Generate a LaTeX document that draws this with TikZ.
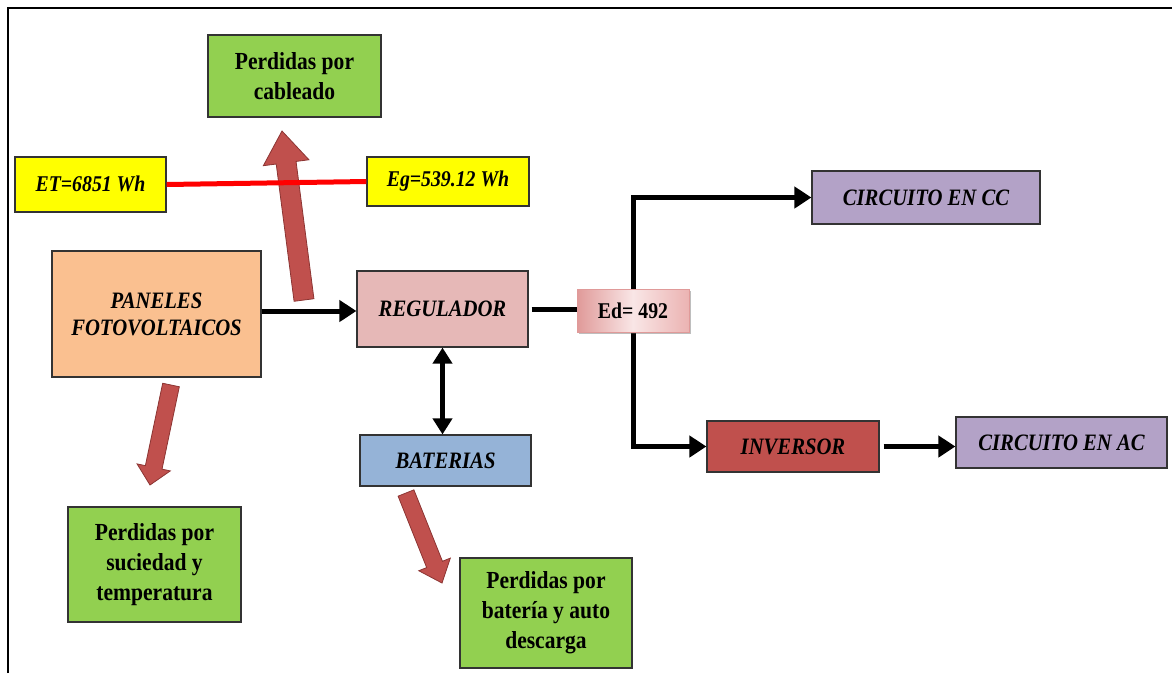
\documentclass[tikz,border=0pt]{standalone}
\usepackage{fontspec}
\setmainfont{Liberation Serif}[FakeStretch=0.88]
\usetikzlibrary{arrows.meta,calc,shadows}
\definecolor{lossgreen}{HTML}{92D050}
\definecolor{etyellow}{HTML}{FFFF00}
\definecolor{peach}{HTML}{FAC090}
\definecolor{regpink}{HTML}{E6B8B7}
\definecolor{batblue}{HTML}{95B3D7}
\definecolor{circpurple}{HTML}{B3A2C7}
\definecolor{invred}{HTML}{C0504D}
\definecolor{arrowred}{HTML}{C0504D}
\definecolor{arrowdark}{HTML}{8C3533}
\definecolor{edleft}{HTML}{E09A99}
\definecolor{edmid}{HTML}{F9E6E6}
\definecolor{edright}{HTML}{EBB3B2}
\newcommand\blockarr[6]{%
  \coordinate (#6) at ($(#2)!#5!(#1)$);
  \filldraw[lossarrow] ($(#1)!#3!90:(#2)$) -- ($(#6)!#3!90:(#2)$) -- ($(#6)!#4!90:(#2)$) -- (#2)
    -- ($(#6)!#4!-90:(#2)$) -- ($(#6)!#3!-90:(#2)$) -- ($(#1)!#3!-90:(#2)$) -- cycle;
}
\begin{document}
\begin{tikzpicture}[x=1pt,y=-1pt,
  box/.style={draw=black!80, line width=1.2pt, inner sep=0pt, align=center,
    font=\bfseries\itshape\fontsize{23.5}{27}\selectfont},
  loss/.style={box, fill=lossgreen, font=\bfseries\fontsize{24.5}{30}\selectfont},
  ebox/.style={box, fill=etyellow, font=\bfseries\itshape\fontsize{22.5}{24}\selectfont},
  edbox/.style={draw=edleft, line width=0.6pt, left color=edleft, right color=edright, middle color=edmid,
    drop shadow={shadow xshift=2pt, shadow yshift=-2pt, opacity=0.3},
    minimum width=112, minimum height=43, inner sep=0pt,
    font=\bfseries\fontsize{22.5}{24}\selectfont},
  conn/.style={line width=5pt, -{Triangle[length=17pt,width=21pt]}},
  plainconn/.style={line width=5pt},
  dbl/.style={line width=5pt, {Triangle[length=16pt,width=19pt]}-{Triangle[length=16pt,width=19pt]}},
  lossarrow/.style={fill=arrowred, draw=arrowdark, line width=0.8pt, line join=miter},
  frameline/.style={line width=2.5pt}
]
\useasboundingbox (0,0) rectangle (1172,673);
% frame
\coordinate (fTL) at (8,8);
\coordinate (fTR) at (1172,8);
\coordinate (fBL) at (8,673);
\draw[frameline] (fBL) -- (fTL) -- (fTR);

% nodes
\node[loss, minimum width=173, minimum height=82] (cab) at (294.5,76) {Perdidas por\\cableado};
\node[ebox, minimum width=151, minimum height=55] (ET) at (90.5,184.5) {\raisebox{2pt}{ET=6851 Wh}};
\node[ebox, minimum width=162, minimum height=49] (Eg) at (448,181.5) {\raisebox{3pt}{Eg=539.12 Wh}};
\node[box, fill=peach, minimum width=209, minimum height=126] (PAN) at (156.5,314) {PANELES\\FOTOVOLTAICOS};
\node[box, fill=regpink, minimum width=171, minimum height=76] (REG) at (442.5,309) {REGULADOR};
\node[box, fill=batblue, minimum width=171, minimum height=51] (BAT) at (445.5,460.5) {BATERIAS};
\node[box, fill=circpurple, minimum width=228, minimum height=53] (CC) at (926,197.5) {CIRCUITO EN CC};
\node[box, fill=invred, minimum width=172, minimum height=51] (INV) at (793,446.5) {INVERSOR};
\node[box, fill=circpurple, minimum width=211, minimum height=51] (AC) at (1061.5,442.5) {CIRCUITO EN AC};
\node[loss, minimum width=173, minimum height=115] (suc) at (154.5,564.5) {Perdidas por\\suciedad y\\temperatura};
\node[loss, minimum width=172, minimum height=110] (batl) at (546,613) {Perdidas por\\batería y auto\\descarga};
\node[edbox] (Ed) at (633,310.5) {Ed= 492};

% connectors
\draw[conn] ([yshift=-2]PAN.east |- REG.west) -- ([yshift=-2]REG.west);
\draw[conn] ([xshift=4]INV.east) -- (INV.east -| AC.west);
\draw[dbl] (REG.south) -- (REG.south |- BAT.north);
\draw[plainconn] ([xshift=3]REG.east) -- (REG.east -| Ed.west);
\draw[conn] (Ed.north) |- (CC.west);
\draw[conn] (Ed.south) |- (INV.west);
% Ed box drawn again on top of the branch lines
\node[edbox] at (Ed) {Ed= 492};

% loss block arrows
\coordinate (upT) at (304,300);
\coordinate (upP) at (282,131);
\blockarr{upT}{upP}{10pt}{23pt}{32pt}{upB}
\coordinate (panT) at (171,385);
\coordinate (panP) at (150,485);
\blockarr{panT}{panP}{8.5pt}{17pt}{18pt}{panB}
\coordinate (batT) at (406,493);
\coordinate (batP) at (442,583);
\blockarr{batT}{batP}{8.5pt}{17pt}{20pt}{batB}

% red line ET - Eg
\draw[red, line width=5pt] (ET.east) -- (Eg.west);
\end{tikzpicture}
\end{document}
